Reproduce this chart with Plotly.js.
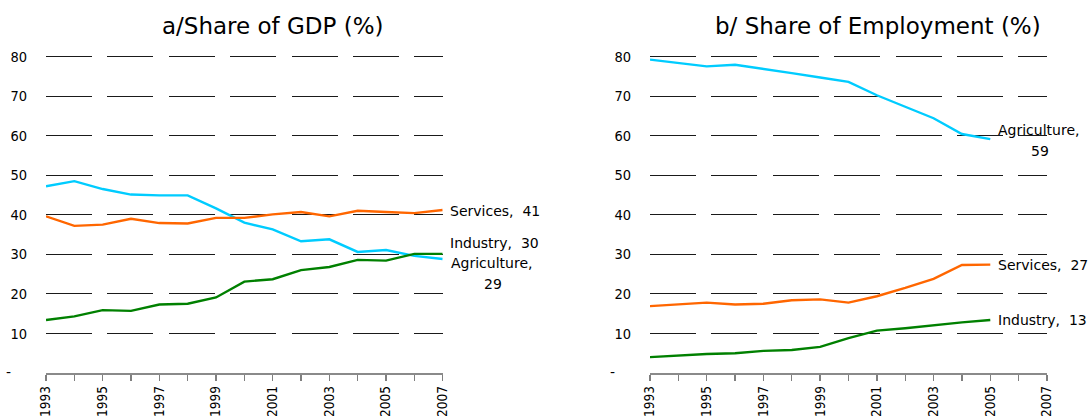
<!DOCTYPE html>
<html>
<head>
<meta charset="utf-8">
<script src="https://cdn.plot.ly/plotly-3.0.1.min.js"></script>
<style>html,body{margin:0;padding:0;background:#fff;}#chart{width:1090px;height:418px;}</style>
</head>
<body>
<div id="chart"></div>
<script>
// ---- data ----
const gdpYears = [1993,1994,1995,1996,1997,1998,1999,2000,2001,2002,2003,2004,2005,2006,2007];
const gdpAgriculture = [47.2,48.5,46.5,45.1,44.9,44.9,41.6,38.0,36.3,33.3,33.8,30.6,31.1,29.6,28.8];
const gdpServices    = [39.6,37.2,37.5,39.0,37.9,37.8,39.2,39.2,40.1,40.7,39.6,41.0,40.7,40.4,41.2];
const gdpIndustry    = [13.4,14.3,15.9,15.7,17.3,17.5,19.1,23.1,23.7,26.0,26.8,28.6,28.4,30.1,30.1];

const empYears = [1993,1994,1995,1996,1997,1998,1999,2000,2001,2002,2003,2004,2005];
const empAgriculture = [79.2,78.4,77.5,77.9,76.9,75.8,74.7,73.6,70.2,67.2,64.4,60.4,59.1];
const empServices    = [16.9,17.4,17.8,17.3,17.5,18.4,18.6,17.8,19.4,21.5,23.8,27.3,27.4];
const empIndustry    = [4.0,4.4,4.8,5.0,5.6,5.8,6.6,8.8,10.7,11.3,12.1,12.8,13.4];

const xTickYears = [1993,1995,1997,1999,2001,2003,2005,2007];
const xTickText = ['1993','1995','1997','1999','2001','2003','2005','2007'];
const yTickVals = [10,20,30,40,50,60,70,80];
const yTickText = ['10','20','30','40','50','60','70','80'];
const titles = ['a/Share of GDP (%)', 'b/ Share of Employment (%)'];
const gdpLabels = ['Services,\u00a0\u00a041', 'Industry,\u00a0\u00a030', 'Agriculture,', '29'];
const empLabels = ['Agriculture,', '59', 'Services,\u00a0\u00a027', 'Industry,\u00a0\u00a013'];

// ---- style ----
const TICKFONT = '"DejaVu Sans Condensed", "DejaVu Sans", sans-serif';
const TEXTFONT = '"DejaVu Sans", sans-serif';
const W = 1090, H = 418;
const C_AGR = '#00CCFF', C_SER = '#FF6600', C_IND = '#008000';

function line(x, y, color, xa, ya, name) {
  return {x: x, y: y, type: 'scatter', mode: 'lines', name: name,
    line: {color: color, width: 2.4}, xaxis: xa, yaxis: ya, hoverinfo: 'x+y', cliponaxis: false};
}

const traces = [
  line(gdpYears, gdpAgriculture, C_AGR, 'x', 'y', 'Agriculture'),
  line(gdpYears, gdpServices, C_SER, 'x', 'y', 'Services'),
  line(gdpYears, gdpIndustry, C_IND, 'x', 'y', 'Industry'),
  line(empYears, empAgriculture, C_AGR, 'x2', 'y2', 'Agriculture'),
  line(empYears, empServices, C_SER, 'x2', 'y2', 'Services'),
  line(empYears, empIndustry, C_IND, 'x2', 'y2', 'Industry')
];

function xAxis(d0, d1, anchor) {
  return {
    domain: [d0 / W, d1 / W], range: [1993, 2007], anchor: anchor,
    tickmode: 'array', tickvals: xTickYears, ticktext: xTickText,
    ticks: 'outside', ticklen: 6, tickwidth: 1.3, tickcolor: '#7f7f7f',
    minor: {tickmode: 'array', tickvals: gdpYears, ticks: 'outside', ticklen: 6, tickwidth: 1.3, tickcolor: '#7f7f7f', showgrid: false},
    showline: true, linecolor: '#8a8a8a', linewidth: 1.6,
    showgrid: false, zeroline: false, tickangle: -90,
    tickfont: {family: TICKFONT, size: 13.5, color: '#000'}, fixedrange: true
  };
}
const YTOP = 83;
function yAxis(anchor) {
  const y0px = 373, y80px = 56.5;
  const pxPerUnit = (y0px - y80px) / 80;
  const topPx = y0px - YTOP * pxPerUnit;
  return {
    domain: [(H - y0px) / H, (H - topPx) / H], range: [0, YTOP], anchor: anchor,
    tickmode: 'array', tickvals: yTickVals, ticktext: yTickText,
    ticks: 'outside', ticklen: 15, tickcolor: 'rgba(0,0,0,0)',
    showgrid: true, gridcolor: '#1a1a1a', gridwidth: 1, griddash: '46px,15.4px',
    showline: false, zeroline: false,
    tickfont: {family: TICKFONT, size: 14.5, color: '#000'}, fixedrange: true
  };
}

const annFont = {family: TEXTFONT, size: 14, color: '#000'};
function lab(text, xa, ya, x, y, xshift, anchor) {
  return {text: text, xref: xa, yref: ya, x: x, y: y, xshift: xshift, xanchor: anchor || 'left',
    yanchor: 'middle', showarrow: false, font: annFont, borderpad: 0};
}

const annotations = [
  {text: titles[0], xref: 'paper', yref: 'paper', x: 273 / W, y: (H - 26) / H, xanchor: 'center', yanchor: 'middle',
   showarrow: false, font: {family: TEXTFONT, size: 23, color: '#000'}},
  {text: titles[1], xref: 'paper', yref: 'paper', x: 878 / W, y: (H - 26) / H, xanchor: 'center', yanchor: 'middle',
   showarrow: false, font: {family: TEXTFONT, size: 23, color: '#000'}},
  {text: '-', xref: 'paper', yref: 'paper', x: 8 / W, y: (H - 372) / H, xanchor: 'center', yanchor: 'middle', showarrow: false, font: annFont},
  {text: '-', xref: 'paper', yref: 'paper', x: 612 / W, y: (H - 372) / H, xanchor: 'center', yanchor: 'middle', showarrow: false, font: annFont},
  lab(gdpLabels[0], 'x', 'y', 2007, 40.9, 6),
  lab(gdpLabels[1], 'x', 'y', 2007, 32.9, 6),
  lab(gdpLabels[2], 'x', 'y', 2007, 27.8, 7),
  lab(gdpLabels[3], 'x', 'y', 2007, 22.5, 50, 'center'),
  lab(empLabels[0], 'x2', 'y2', 2005, 61.5, 7),
  lab(empLabels[1], 'x2', 'y2', 2005, 56.2, 50, 'center'),
  lab(empLabels[2], 'x2', 'y2', 2005, 27.4, 7),
  lab(empLabels[3], 'x2', 'y2', 2005, 13.3, 7)
];

const layout = {
  width: W, height: H,
  margin: {l: 0, r: 0, t: 0, b: 0},
  paper_bgcolor: '#fff', plot_bgcolor: 'rgba(0,0,0,0)',
  showlegend: false,
  font: {family: TEXTFONT, size: 14, color: '#000'},
  xaxis: xAxis(46, 442.7, 'y'),
  yaxis: yAxis('x'),
  xaxis2: xAxis(650, 1047, 'y2'),
  yaxis2: yAxis('x2'),
  annotations: annotations
};

Plotly.newPlot('chart', traces, layout, {staticPlot: true, displayModeBar: false});
</script>
</body>
</html>
